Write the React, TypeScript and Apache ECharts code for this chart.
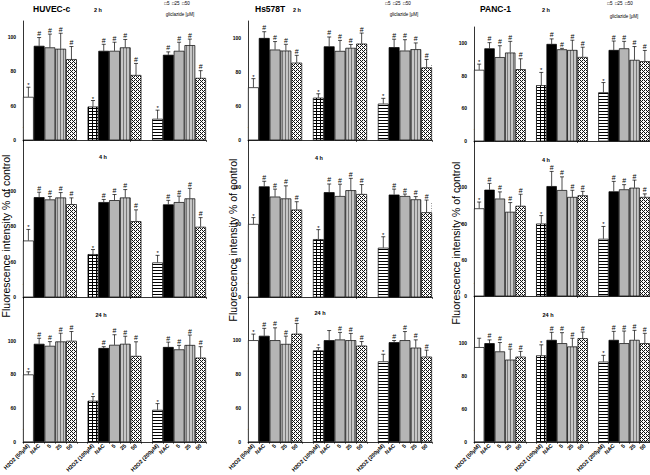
import React, { useEffect, useRef } from 'react';
import * as echarts from 'echarts';

const FONT = 'Liberation Sans, Arial, sans-serif';

// ---------- labels ----------
const xLabels = [
  'H2O2 (50μM)', 'NAC', '5', '25', '50', '',
  'H2O2 (100μM)', 'NAC', '5', '25', '50', '',
  'H2O2 (200μM)', 'NAC', '5', '25', '50',
];
const yTickText: Record<number, string> = { 40: '0', 60: '60', 80: '80', 100: '100' };
const cellLines = ['HUVEC-c', 'Hs578T', 'PANC-1'];
const timePoints = ['2 h', '4 h', '24 h'];
const legendLine1 = '□5  □25  □50';
const legendLine2 = 'gliclazide [μM]';
const yAxisTitle = 'Fluorescence intensity % of control';

// ---------- data (broken axis: tick "0" sits where 40 would be) ----------
const huvec2h = [65.0, 94.6, 93.7, 92.9, 86.9, 59.4, 91.7, 91.7, 93.7, 77.7, 52.3, 89.4, 91.7, 95.0, 76.0];
const huvec2hErr = [5.6, 4.8, 7.7, 9.0, 7.3, 3.5, 3.8, 5.0, 4.6, 6.7, 5.0, 1.7, 5.0, 3.5, 4.2];
const huvec4h = [72.0, 96.6, 95.3, 96.4, 92.6, 64.3, 93.8, 94.9, 96.4, 83.0, 59.6, 92.5, 93.8, 95.9, 79.8];
const huvec4hErr = [6.3, 2.8, 1.7, 2.8, 3.6, 2.6, 1.5, 3.2, 4.5, 6.4, 4.0, 2.3, 3.4, 5.7, 5.2];
const huvec24h = [80.0, 98.2, 97.0, 99.6, 100.0, 64.4, 95.7, 97.6, 98.2, 91.0, 59.0, 96.3, 94.9, 97.5, 90.0];
const huvec24hErr = [1.6, 3.3, 2.5, 4.9, 5.5, 2.5, 0.8, 6.0, 4.5, 8.4, 3.7, 2.9, 2.4, 5.9, 6.5];

const hs2h = [71.0, 100.0, 93.2, 92.6, 85.5, 64.9, 95.1, 92.4, 94.2, 96.7, 61.4, 94.6, 92.6, 93.4, 82.7];
const hs2hErr = [5.1, 3.7, 4.7, 3.7, 4.3, 2.3, 5.5, 6.2, 2.0, 6.2, 3.1, 4.7, 6.4, 3.7, 4.7];
const hs4h = [80.0, 100.6, 95.0, 94.0, 87.9, 71.7, 97.4, 95.3, 98.5, 96.4, 67.0, 96.1, 95.3, 93.5, 86.4];
const hs4hErr = [3.5, 2.8, 4.1, 6.9, 4.3, 5.2, 4.5, 6.5, 6.5, 5.2, 6.0, 3.0, 1.1, 1.5, 6.7];
const hs24h = [100.0, 102.6, 100.0, 97.8, 103.8, 94.0, 100.0, 100.4, 100.0, 96.8, 87.5, 98.8, 100.0, 95.6, 90.3];
const hs24hErr = [3.6, 4.4, 7.3, 4.6, 6.1, 1.6, 5.7, 4.2, 4.0, 2.4, 4.2, 1.0, 5.1, 4.6, 3.8];

const panc2h = [83.7, 96.9, 91.5, 94.3, 84.1, 74.3, 99.6, 96.3, 95.9, 91.6, 69.9, 95.9, 96.9, 89.8, 89.0];
const panc2hErr = [3.5, 3.5, 7.0, 6.9, 6.4, 7.8, 3.1, 0.6, 6.0, 6.0, 6.0, 5.5, 4.3, 8.2, 6.6];
const panc4h = [88.4, 98.7, 93.8, 86.5, 89.8, 80.0, 100.7, 98.5, 94.7, 95.6, 71.6, 97.8, 98.9, 99.8, 94.7];
const panc4hErr = [3.5, 3.5, 3.7, 5.1, 6.4, 4.4, 8.1, 7.3, 3.7, 2.2, 6.8, 5.5, 2.6, 4.2, 1.7];
const panc24h = [97.6, 100.0, 95.0, 90.0, 91.8, 92.6, 102.0, 100.0, 98.0, 103.0, 88.8, 102.0, 100.0, 102.0, 100.0];
const panc24hErr = [5.4, 2.0, 5.4, 6.4, 3.2, 6.4, 4.6, 6.4, 5.0, 3.8, 3.8, 5.2, 7.4, 5.8, 6.0];

const stdMarks = ['*', '#', '#', '#', '#', '*', '#', '#', '#', '#', '*', '#', '#', '#', '#'];
const hs24hMarks = ['*', '#', '#', '#', '#', '*', '', '#', '#', '#', '*', '#', '#', '#', '#'];
const panc24hMarks = ['', '#', '#', '#', '#', '*', '#', '#', '#', '#', '*', '#', '#', '#', '#'];

const panels = [
  [
    { v: huvec2h, e: huvec2hErr, m: stdMarks },
    { v: huvec4h, e: huvec4hErr, m: stdMarks },
    { v: huvec24h, e: huvec24hErr, m: stdMarks },
  ],
  [
    { v: hs2h, e: hs2hErr, m: stdMarks },
    { v: hs4h, e: hs4hErr, m: stdMarks },
    { v: hs24h, e: hs24hErr, m: hs24hMarks },
  ],
  [
    { v: panc2h, e: panc2hErr, m: stdMarks },
    { v: panc4h, e: panc4hErr, m: stdMarks },
    { v: panc24h, e: panc24hErr, m: panc24hMarks },
  ],
];

// ---------- layout ----------
const COLS = [
  { left: 23, width: 183 },
  { left: 248, width: 184 },
  { left: 474, width: 177 },
];
// [top, bottom, axis max]
const ROWS = [
  [[21, 140, 109], [140, 297, 129], [297, 442, 126]],
  [[21, 140, 110], [140, 297, 126], [297, 442, 125.5]],
  [[27, 141, 110], [141, 296, 125.6], [296, 442, 128.7]],
];

function pattern(w: number, h: number, draw: (ctx: CanvasRenderingContext2D) => void) {
  const c = document.createElement('canvas');
  c.width = w;
  c.height = h;
  const ctx = c.getContext('2d')!;
  draw(ctx);
  return { image: c, repeat: 'repeat', imageWidth: w, imageHeight: h } as any;
}

function makeFills() {
  const gridP = pattern(4, 3, (ctx) => {
    ctx.fillStyle = '#fff'; ctx.fillRect(0, 0, 4, 3);
    ctx.fillStyle = '#000'; ctx.fillRect(0, 0, 4, 1); ctx.fillRect(0, 0, 1, 3);
  });
  const hlineP = pattern(4, 3, (ctx) => {
    ctx.fillStyle = '#fff'; ctx.fillRect(0, 0, 4, 3);
    ctx.fillStyle = '#000'; ctx.fillRect(0, 0, 4, 1);
  });
  const vstripeP = pattern(3, 4, (ctx) => {
    ctx.fillStyle = '#c6c6c6'; ctx.fillRect(0, 0, 3, 4);
    ctx.fillStyle = '#777'; ctx.fillRect(0, 0, 1, 4);
  });
  const crossP = pattern(4, 4, (ctx) => {
    ctx.fillStyle = '#fff'; ctx.fillRect(0, 0, 4, 4);
    ctx.fillStyle = '#111';
    [[0, 0], [1, 1], [2, 2], [3, 3], [2, 0], [0, 2]].forEach(([x, y]) => ctx.fillRect(x, y, 1, 1));
  });
  const h2o2 = ['#ffffff', gridP, hlineP];
  const others = [null, '#000000', '#b5b5b5', vstripeP, crossP];
  return (g: number, p: number) => (p === 0 ? h2o2[g] : others[p]);
}

function txt(text: string, x: number, y: number, fontSize: number, align: string, extra: any = {}, elProps: any = {}) {
  return {
    type: 'text',
    x,
    y,
    ...elProps,
    style: {
      text,
      fontSize,
      fontFamily: FONT,
      fill: '#000',
      align,
      verticalAlign: 'middle',
      textAlign: align,
      textVerticalAlign: 'middle',
      ...extra,
    },
  };
}

export default function App() {
  const ref = useRef<HTMLDivElement>(null);

  useEffect(() => {
    const el = ref.current!;
    const chart = echarts.init(el, null, { renderer: 'svg' });
    const fillFor = makeFills();

    const grids: any[] = [];
    const xAxes: any[] = [];
    const yAxes: any[] = [];
    const series: any[] = [];
    let k = 0;
    for (let c = 0; c < 3; c++) {
      for (let r = 0; r < 3; r++) {
        const [top, bottom, max] = ROWS[c][r];
        grids.push({ left: COLS[c].left, width: COLS[c].width, top, height: bottom - top });
        xAxes.push({
          type: 'category',
          gridIndex: k,
          data: xLabels,
          axisLine: { lineStyle: { color: '#000', width: 0.8 } },
          axisTick: { show: true, length: 2, lineStyle: { color: '#000', width: 0.6 } },
          axisLabel:
            r === 2
              ? { show: true, rotate: 45, interval: 0, fontSize: 5.5, fontWeight: 'bold', margin: 3, color: '#000', fontFamily: FONT }
              : { show: false },
        });
        yAxes.push({
          type: 'value',
          gridIndex: k,
          min: 40,
          max,
          interval: 20,
          axisLine: { show: true, lineStyle: { color: '#000', width: 0.8 } },
          axisTick: { show: false },
          splitLine: { show: false },
          axisLabel: {
            fontSize: 5,
            fontWeight: 'bold',
            color: '#000',
            margin: 7,
            fontFamily: FONT,
            formatter: (v: number) => yTickText[v] ?? '',
          },
        });
        const pd = panels[c][r];
        const barData: any[] = xLabels.map(() => '-');
        const errData: any[] = [];
        pd.v.forEach((val, i) => {
          const g = Math.floor(i / 5);
          const p = i % 5;
          const idx = g * 6 + p;
          barData[idx] = { value: val, itemStyle: { color: fillFor(g, p) } };
          errData.push([idx, val, pd.e[i], i]);
        });
        series.push({
          type: 'bar',
          xAxisIndex: k,
          yAxisIndex: k,
          data: barData,
          barCategoryGap: '0%',
          barWidth: '100%',
          itemStyle: { borderColor: '#000', borderWidth: 0.7 },
        });
        const marks = pd.m;
        series.push({
          type: 'custom',
          xAxisIndex: k,
          yAxisIndex: k,
          data: errData,
          clip: false,
          z: 5,
          renderItem: (params: any, api: any) => {
            const x = api.value(0);
            const v = api.value(1);
            const e = api.value(2);
            const mi = api.value(3);
            const p0 = api.coord([x, v]);
            const p1 = api.coord([x, v + e]);
            const mark = marks[mi];
            const ls = { stroke: '#000', lineWidth: 0.7 };
            return {
              type: 'group',
              children: [
                { type: 'line', shape: { x1: p0[0], y1: p0[1], x2: p1[0], y2: p1[1] }, style: ls },
                { type: 'line', shape: { x1: p1[0] - 2, y1: p1[1], x2: p1[0] + 2, y2: p1[1] }, style: ls },
                {
                  type: 'text',
                  x: p1[0],
                  y: mark === '*' ? p1[1] + 1 : p1[1] - 0.5,
                  style: {
                    text: mark,
                    fontSize: mark === '*' ? 6 : 7,
                    fontFamily: FONT,
                    fill: '#000',
                    align: 'center',
                    verticalAlign: 'bottom',
                  },
                },
              ],
            };
          },
        });
        k++;
      }
    }

    const titleX = [33, 255, 480];
    chart.setOption({
      animation: false,
      backgroundColor: '#fff',
      title: cellLines.map((t, c) => ({
        text: t,
        left: titleX[c],
        top: 4,
        padding: 0,
        textStyle: { fontSize: 8.5, fontWeight: 'bold', fontFamily: FONT, color: '#000' },
      })),
      grid: grids,
      xAxis: xAxes,
      yAxis: yAxes,
      series,
    });

    const gfx: any[] = [];
    const timePos = [
      [[98, 10], [103, 157], [101, 315]],
      [[297, 10], [319, 158], [320, 313]],
      [[546, 10], [546, 160], [548, 315]],
    ];
    const legendPos = [[177, 3.5, 180, 14.5], [398, 3.5, 404, 14], [620, 3.5, 624, 16]];
    const yTitlePos = [[5.5, 236], [232.5, 240], [456, 243]];
    for (let c = 0; c < 3; c++) {
      for (let r = 0; r < 3; r++) {
        gfx.push(txt(timePoints[r], timePos[c][r][0], timePos[c][r][1], 5.5, 'center', { fontWeight: 'bold' }));
      }
      gfx.push(txt(legendLine1, legendPos[c][0], legendPos[c][1], 4.5, 'center'));
      gfx.push(txt(legendLine2, legendPos[c][2], legendPos[c][3], 4.5, 'center'));
      gfx.push(txt(yAxisTitle, yTitlePos[c][0], yTitlePos[c][1], 10.5, 'center', {}, { rotation: Math.PI / 2 }));
    }
    // axis-break marks
    for (let i = 0; i < 9; i++) {
      const c = Math.floor(i / 3);
      const y = chart.convertToPixel({ yAxisIndex: i } as any, 48) as unknown as number;
      gfx.push(txt('//', COLS[c].left + 2, y, 6, 'center', { fontWeight: 'bold', fontStyle: 'italic' }));
    }
    // faint dotted scan line left of the PANC-1 column
    [[65, 135], [203, 290], [357, 442]].forEach(([y1, y2]) => {
      gfx.push({ type: 'line', shape: { x1: 431.5, y1, x2: 431.5, y2 }, style: { stroke: '#999', lineWidth: 1, lineDash: [1, 1.5] } });
    });
    chart.setOption({ graphic: gfx });

    return () => chart.dispose();
  }, []);

  return <div ref={ref} style={{ position: 'fixed', left: 0, top: 0, width: 650, height: 475, background: '#fff' }} />;
}
